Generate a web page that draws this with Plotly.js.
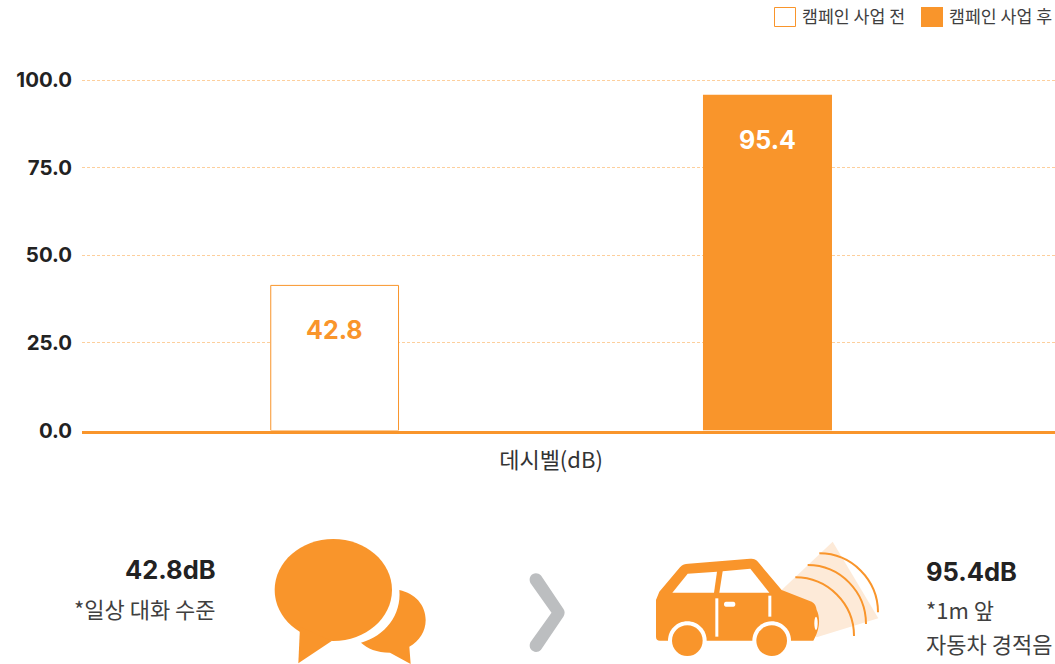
<!DOCTYPE html>
<html><head><meta charset="utf-8">
<script src="https://cdn.plot.ly/plotly-3.0.1.min.js"></script>
<style>html,body{margin:0;padding:0;background:#fff;overflow:hidden}#c{width:1055px;height:664px}</style>
</head><body><div id="c"></div>
<script>
const categories = ['데시벨(dB)'];
const seriesNames = ['캠페인 사업 전', '캠페인 사업 후'];
const drawnBefore = [41.4];
const drawnAfter = [95.8];
const labelBefore = ['42.8'];
const labelAfter = ['95.4'];
const yTicks = [0, 25, 50, 75, 100];
const yTickLabels = ['0.0', '25.0', '50.0', '75.0', '100.0'];

const W = 1055, H = 664;
const ORANGE = '#f9952b', INK = '#222222', GREY = '#3f3f3f';
const SANS = 'Inter, "Noto Sans CJK KR", sans-serif';
const KR = '"Noto Sans CJK KR", sans-serif';
const fx = x => x / W, fy = y => 1 - y / H;

function ip(str, ox, oy, s) {
  return str.replace(/(-?[\d.]+),(-?[\d.]+)/g, (m, a, b) =>
    fx(ox + a * s).toFixed(5) + ',' + fy(oy + b * s).toFixed(5));
}
function ell(cx, cy, rx, ry) {
  const k = 0.5523;
  return `M${cx - rx},${cy} C${cx - rx},${cy - k * ry} ${cx - k * rx},${cy - ry} ${cx},${cy - ry} ` +
    `C${cx + k * rx},${cy - ry} ${cx + rx},${cy - k * ry} ${cx + rx},${cy} ` +
    `C${cx + rx},${cy + k * ry} ${cx + k * rx},${cy + ry} ${cx},${cy + ry} ` +
    `C${cx - k * rx},${cy + ry} ${cx - rx},${cy + k * ry} ${cx - rx},${cy} Z`;
}
const shapes = [];
function add(path, fill, ox, oy, s, line) {
  shapes.push({type: 'path', xref: 'paper', yref: 'paper', path: ip(path, ox, oy, s),
    fillcolor: fill || 'rgba(0,0,0,0)', line: line || {width: 0}, layer: 'above'});
}
const c = (fill, str) => add(str, fill, 640, 530, 1 / 3);
c('#fdead8', 'M425,180 L578,35 L715,265 L530,322 Z');
const arc = {color: ORANGE, width: 2};
add('M466,142 C563,142 642,221 642,318', null, 640, 530, 1 / 3, arc);
add('M503,105 C600,105 678,185 678,282', null, 640, 530, 1 / 3, arc);
add('M538,70 C635,70 714,150 714,247', null, 640, 530, 1 / 3, arc);
c(ORANGE, 'M48,210 L58,185 L120,112 C128,103 135,102 145,101 L330,86 C345,86 350,90 355,97 L425,180 L515,215 C525,220 528,228 530,240 C540,260 542,295 520,332 L60,332 C52,332 48,328 48,320 Z');
c('#ffffff', 'M97,188 L143,131 L231,125 L222,188 Z');
c('#ffffff', 'M238,188 L248,124 L331,116 L388,188 Z');
c('#ffffff', 'M226,205 L235,205 L235,320 L226,320 Z');
c('#ffffff', 'M385,197 L394,197 L394,260 L385,260 Z');
c('#ffffff', 'M258,215 L280,215 C288,215 288,230 280,230 L258,230 C250,230 250,215 258,215 Z');
c('#ffffff', ell(528, 280, 5, 20));
c('#ffffff', ell(142, 332, 58, 58));
c('#ffffff', ell(395, 332, 58, 58));
c(ORANGE, ell(142, 332, 46, 46));
c(ORANGE, ell(395, 332, 46, 46));
const b = (fill, str) => add(str, fill, 260, 530, 1 / 3);
b(ORANGE, ell(220, 180, 176, 153));
b(ORANGE, 'M120,290 L115,400 L215,333 Z');
b(ORANGE, 'M418,180 C465,190 497,225 497,270 C497,305 478,333 448,350 L452,402 L390,368 C350,368 322,355 303,338 C375,318 425,255 418,180 Z');
add('M541,575.6 L563.5,609 C565,611 565,614 563.5,616.4 L541,649.7 C536,655 527,650 530.4,642.3 L551.5,612.7 L530.4,583 C527,575 536,570 541,575.6 Z', '#bcbec0', 0, 0, 1);

shapes.push({type: 'rect', xref: 'paper', yref: 'paper', x0: fx(774.5), x1: fx(795.5), y0: fy(7.5), y1: fy(26.5),
  fillcolor: '#ffffff', line: {color: ORANGE, width: 1}});
shapes.push({type: 'rect', xref: 'paper', yref: 'paper', x0: fx(921), x1: fx(943), y0: fy(7), y1: fy(27),
  fillcolor: ORANGE, line: {width: 0}});

function txt(text, x, y, size, color, anchor, weight, family) {
  return {text, x: fx(x), y: fy(y), xref: 'paper', yref: 'paper', showarrow: false, xanchor: anchor, yanchor: 'middle',
    font: {size, color, weight: weight || 400, family: family || KR}};
}
const GROUP_SHIFT = 216.5;
function barLabel(text, shift, value, color) {
  return {text, x: 0, y: value, xref: 'x', yref: 'y', xshift: shift, yshift: -45, showarrow: false,
    xanchor: 'center', yanchor: 'middle', font: {size: 25, color, weight: 700, family: SANS}};
}
const annotations = [
  txt(seriesNames[0], 800, 16, 17.3, GREY, 'left'),
  txt(seriesNames[1], 947, 16, 17.3, GREY, 'left'),
  barLabel(labelBefore[0], -GROUP_SHIFT, drawnBefore[0], ORANGE),
  barLabel(labelAfter[0], GROUP_SHIFT, drawnAfter[0], '#ffffff'),
  txt(labelBefore[0] + 'dB', 218, 569, 25.5, INK, 'right', 700, SANS),
  txt('*일상 대화 수준', 218, 607.5, 22, GREY, 'right'),
  txt(labelAfter[0] + 'dB', 924, 571, 25.5, INK, 'left', 700, SANS),
  txt('*1m 앞', 924, 608.5, 22, GREY, 'left'),
  txt('자동차 경적음', 924, 642.5, 22, GREY, 'left')
];

const data = [
  {type: 'bar', name: seriesNames[0], x: categories, y: drawnBefore, offset: -0.288, width: 0.1313,
    marker: {color: '#ffffff', line: {color: ORANGE, width: 1}}, hoverinfo: 'skip'},
  {type: 'bar', name: seriesNames[1], x: categories, y: drawnAfter, offset: 0.1562, width: 0.1326,
    marker: {color: ORANGE, line: {width: 0}}, hoverinfo: 'skip'}
];
const layout = {
  width: W, height: H, margin: {l: 0, r: 0, t: 0, b: 0, pad: 0}, autosize: false,
  paper_bgcolor: '#fff', plot_bgcolor: '#fff', showlegend: false,
  barmode: 'group',
  xaxis: {domain: [fx(82), 1], type: 'category', range: [-0.482, 0.518], anchor: 'y', fixedrange: true,
    showgrid: false, zeroline: false, showline: true, linecolor: ORANGE, linewidth: 3,
    ticks: '', tickfont: {size: 22, color: '#333333', family: KR}, ticklabelstandoff: 8},
  yaxis: {domain: [fy(430.5), fy(73)], range: [0, 102], anchor: 'x', fixedrange: true,
    tickmode: 'array', tickvals: yTicks, ticktext: yTickLabels,
    tickfont: {size: 20.4, color: INK, weight: 700, family: SANS}, ticks: '', ticklabelstandoff: 9,
    showgrid: true, gridcolor: '#fdcf9c', griddash: '3px,2px', gridwidth: 1, zeroline: false, showline: false},
  shapes, annotations
};
Plotly.newPlot('c', data, layout, {displayModeBar: false, staticPlot: true});
</script></body></html>
